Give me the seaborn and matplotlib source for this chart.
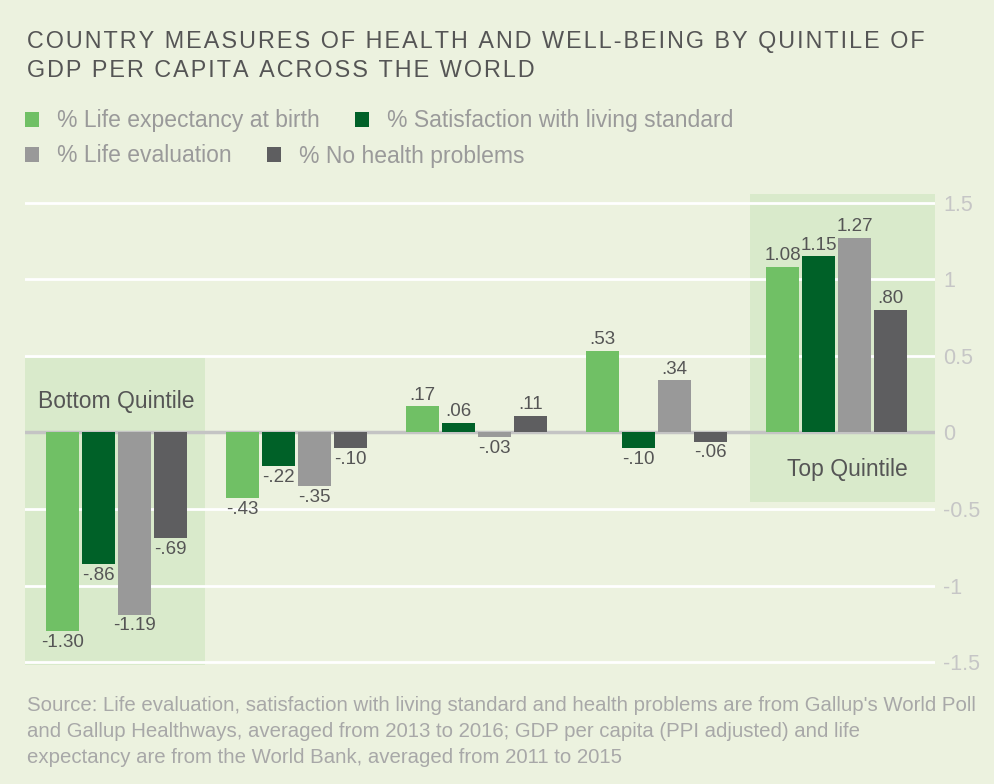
import matplotlib
matplotlib.use("Agg")
import matplotlib.pyplot as plt
import seaborn as sns
import pandas as pd
from matplotlib.patches import Rectangle

# ---------------- data ----------------
quintiles = ["Bottom Quintile", "Second Quintile", "Third Quintile",
             "Fourth Quintile", "Top Quintile"]
measures = ["% Life expectancy at birth", "% Satisfaction with living standard",
            "% Life evaluation", "% No health problems"]
life_expectancy = [-1.30, -0.43, 0.17, 0.53, 1.08]
satisfaction = [-0.86, -0.22, 0.06, -0.10, 1.15]
life_evaluation = [-1.19, -0.35, -0.03, 0.34, 1.27]
no_health_problems = [-0.69, -0.10, 0.11, -0.06, 0.80]
y_ticks = [1.5, 1, 0.5, 0, -0.5, -1, -1.5]
y_tick_labels = ["1.5", "1", "0.5", "0", "-0.5", "-1", "-1.5"]

title_lines = ["COUNTRY MEASURES OF HEALTH AND WELL-BEING BY QUINTILE OF",
               "GDP PER CAPITA ACROSS THE WORLD"]
source = ("Source: Life evaluation, satisfaction with living standard and health problems are from Gallup's World Poll\n"
          "and Gallup Healthways, averaged from 2013 to 2016; GDP per capita (PPI adjusted) and life\n"
          "expectancy are from the World Bank, averaged from 2011 to 2015")

colors = ["#70c065", "#006128", "#999999", "#5e5e60"]
BG = "#ecf2df"
BOX = "#d9eacb"

series = [life_expectancy, satisfaction, life_evaluation, no_health_problems]
rows = []
for m, vals in zip(measures, series):
    for q, v in zip(quintiles, vals):
        rows.append({"quintile": q, "measure": m, "value": v})
df = pd.DataFrame(rows)

plt.rcParams["font.family"] = ["Liberation Sans", "DejaVu Sans"]

W, H = 995, 784
fig = plt.figure(figsize=(W / 100, H / 100), dpi=100)
fig.patch.set_facecolor(BG)

ax_top, ax_bot = 194, 667
ax = fig.add_axes([25 / W, 1 - ax_bot / H, 910 / W, (ax_bot - ax_top) / H])
ax.set_facecolor("none")

sns.barplot(data=df, x="quintile", y="value", hue="measure", order=quintiles,
            hue_order=measures, palette=colors, width=0.8, gap=0.08,
            errorbar=None, ax=ax, zorder=3, saturation=1)

handles, labels = ax.get_legend_handles_labels()
if ax.get_legend() is not None:
    ax.get_legend().remove()

ax.set_xlim(-0.508, 4.547)
ax.set_ylim(-1.532, 1.557)

# highlight boxes
ax.add_patch(Rectangle((-0.508, -1.519), 1.0, 0.487 + 1.519, facecolor=BOX,
                       edgecolor="none", zorder=0.2))
ax.add_patch(Rectangle((3.519, -0.454), 4.547 - 3.519, 1.557 + 0.454, facecolor=BOX,
                       edgecolor="none", zorder=0.2, clip_on=False))

# grid
for t in y_ticks:
    if t == 0:
        ax.axhline(0, color="#c4c4c4", lw=2.5, zorder=2)
    else:
        ax.axhline(t, color="white", lw=2, zorder=1)

ax.set_yticks(y_ticks)
ax.set_yticklabels(y_tick_labels)
ax.yaxis.tick_right()
ax.tick_params(axis="y", length=0, pad=6, labelsize=15.5, labelcolor="#c6c6c6")
ax.tick_params(axis="x", length=0, labelbottom=False)
ax.set_xlabel("")
ax.set_ylabel("")
for s in ax.spines.values():
    s.set_visible(False)


def fmt(v):
    s = f"{v:.2f}"
    return s.replace("0.", ".", 1) if s.lstrip("-").startswith("0.") else s


for cont, vals in zip(ax.containers, series):
    ax.bar_label(cont, labels=[fmt(v) for v in vals], padding=2,
                 fontsize=13.5, color="#555555")

ax.text(0, 0.205, "Bottom Quintile", ha="center", va="center",
        fontsize=16.5, color="#555555")
ax.text(4.06, -0.245, "Top Quintile", ha="center", va="center",
        fontsize=16.5, color="#555555")

# title (tracked capitals: hair spaces between letters)
HAIR = "\u200a"
title = "\n".join(HAIR.join(line) for line in title_lines)
fig.text(27 / W, 1 - 30 / H, title, ha="left", va="top", fontsize=16.85,
         color="#555555", linespacing=1.36)

# legends
leg_kw = dict(frameon=False, loc="center left", ncol=2, fontsize=16.5,
              handlelength=0.6, handleheight=0.6, handletextpad=0.8,
              columnspacing=1.55, borderpad=0, borderaxespad=0,
              labelcolor="#9a9a9a")
leg1 = fig.legend(handles[:2], labels[:2], bbox_to_anchor=(25 / W, 1 - 121 / H), **leg_kw)
leg2 = fig.legend(handles[2:], labels[2:], bbox_to_anchor=(25 / W, 1 - 156 / H), **leg_kw)

# source
fig.text(27 / W, 1 - 696 / H, source, ha="left", va="top", fontsize=14.7,
         color="#a8a8a8", linespacing=1.46)

fig.savefig("out.png", dpi=100, facecolor=BG)
